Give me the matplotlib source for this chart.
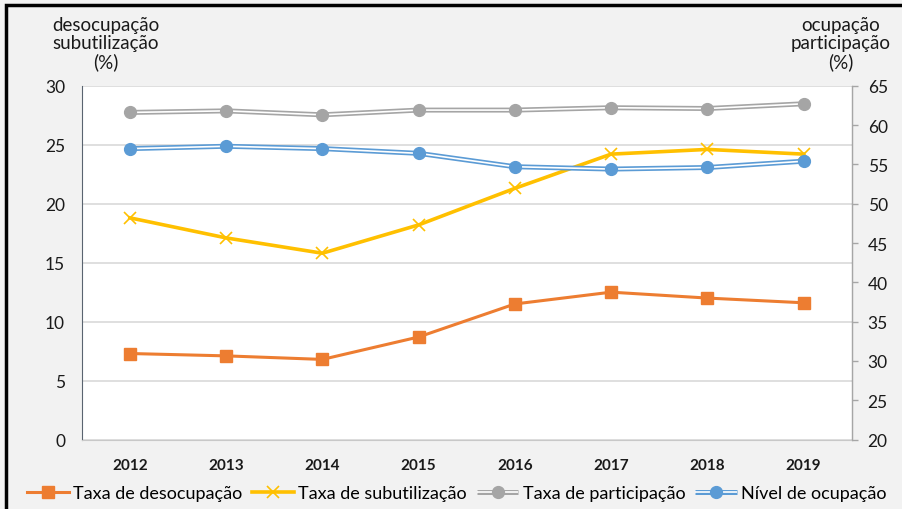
import matplotlib
matplotlib.use("Agg")
import matplotlib.pyplot as plt
from matplotlib.lines import Line2D
from matplotlib.legend_handler import HandlerTuple
from matplotlib.patches import Rectangle

plt.rcParams['font.family'] = ['Lato', 'DejaVu Sans']

years = ['2012', '2013', '2014', '2015', '2016', '2017', '2018', '2019']
desocupacao = [7.3, 7.1, 6.8, 8.7, 11.5, 12.5, 12.0, 11.6]
subutilizacao = [18.8, 17.1, 15.8, 18.2, 21.3, 24.2, 24.6, 24.2]
participacao = [61.6, 61.8, 61.3, 61.9, 61.9, 62.2, 62.1, 62.7]
ocupacao = [57.0, 57.3, 57.0, 56.4, 54.7, 54.4, 54.6, 55.4]

c_orange = '#ED7D31'
c_yellow = '#FFC000'
c_gray = '#A5A5A5'
c_blue = '#5B9BD5'
bg = '#F2F2F2'

fig = plt.figure(figsize=(9.03, 5.10), dpi=100, facecolor=bg)
ax = fig.add_axes([0.0905, 0.136, 0.8527, 0.694])
ax.set_facecolor('white')
ax2 = ax.twinx()

x = list(range(len(years)))

# left axis series
l1, = ax.plot(x, desocupacao, color=c_orange, lw=2.2, marker='s', ms=8,
              mfc=c_orange, mec=c_orange, zorder=5)
l2, = ax.plot(x, subutilizacao, color=c_yellow, lw=2.6, marker='x', ms=9,
              mew=1.2, mec=c_yellow, zorder=5)

# right axis series: double lines
def double_line(a, vals, color):
    outer, = a.plot(x, vals, color=color, lw=3.6, solid_capstyle='butt', zorder=4)
    inner, = a.plot(x, vals, color='white', lw=1.2, solid_capstyle='butt', zorder=4.5)
    mk, = a.plot(x, vals, ls='none', marker='o', ms=8.5, mfc=color, mec=color, zorder=5)
    return outer, inner, mk

g = double_line(ax2, participacao, c_gray)
b = double_line(ax2, ocupacao, c_blue)

ax.set_xlim(-0.5, len(years) - 0.5)
ax.set_ylim(0, 30)
ax.set_yticks(range(0, 31, 5))
ax2.set_ylim(20, 65)
ax2.set_yticks(range(20, 66, 5))

ax.set_xticks(x)
ax.set_xticklabels(years, fontsize=11, fontweight='bold', color='#1a1a1a')
ax.tick_params(axis='x', length=0, pad=13)
ax.tick_params(axis='y', length=0, pad=12, labelsize=12.5, labelcolor='#1a1a1a')
ax2.tick_params(axis='y', length=4.5, width=1, color='#a6a6a6', pad=7,
                labelsize=12.5, labelcolor='#1a1a1a')

ax.yaxis.grid(True, color='#d9d9d9', lw=1.2)
ax.set_axisbelow(True)
for a in (ax, ax2):
    a.spines['top'].set_visible(False)
ax.spines['left'].set_color('#5a6470')
ax.spines['bottom'].set_color('#c8c8c8')
ax2.spines['right'].set_color('#a6a6a6')
ax2.spines['left'].set_visible(False)
ax2.spines['bottom'].set_visible(False)

# axis titles
fig.text(106 / 903, 1 - 44 / 510, 'desocupação\nsubutilização\n(%)', ha='center',
         va='center', fontsize=13.5, linespacing=1.1, color='#1a1a1a')
fig.text(841 / 903, 1 - 44 / 510, 'ocupação\nparticipação\n(%)', ha='center',
         va='center', fontsize=13.5, linespacing=1.1, color='#1a1a1a')

handles = [l1, l2, tuple(g), tuple(b)]
labels = ['Taxa de desocupação', 'Taxa de subutilização',
          'Taxa de participação', 'Nível de ocupação']
leg = fig.legend(handles, labels, loc='center', bbox_to_anchor=(457 / 903, 1 - 494 / 510),
                 ncol=4, frameon=False, fontsize=13, handlelength=2.3,
                 columnspacing=0.55, handletextpad=0.25, borderpad=0.2,
                 handler_map={tuple: HandlerTuple(ndivide=1)})

# outer frame
fig.patches.append(Rectangle((6 / 903, -0.05), 1.05, 1 - 6 / 510 + 0.05,
                             transform=fig.transFigure, fill=False,
                             edgecolor='black', lw=2.5))

fig.savefig('out.png', dpi=100, facecolor=bg)
